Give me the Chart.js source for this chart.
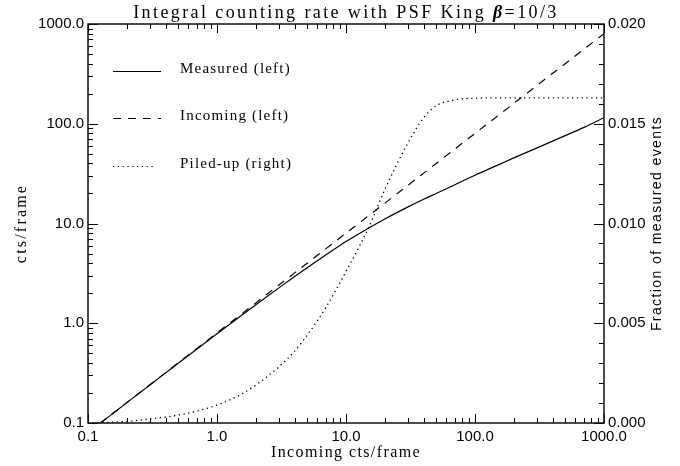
<!DOCTYPE html>
<html><head><meta charset="utf-8">
<script src="https://cdn.jsdelivr.net/npm/chart.js@4.4.1/dist/chart.umd.min.js"></script>
<style>html,body{margin:0;padding:0;background:#fff}</style>
</head><body>
<div style="width:680px;height:466px"><canvas id="c" width="680" height="466"></canvas></div>
<script>
// Incoming counts per frame (x)
const xValues   = [0.1,0.12,0.15,0.2,0.3,0.4,0.5,0.7,1,1.5,2,3,4,5,7,10,15,20,30,40,50,70,100,150,200,300,500,700,1000];
// Incoming (left axis, dashed)
const incoming  = [0.08,0.096,0.12,0.16,0.24,0.32,0.4,0.56,0.8,1.2,1.6,2.4,3.2,4,5.6,8,12,16,24,32,40,56,80,120,160,240,400,560,800];
// Measured (left axis, solid)
const measured  = [0.08,0.096,0.12,0.16,0.239,0.318,0.397,0.553,0.785,1.16,1.53,2.25,2.94,3.6,4.85,6.6,9.0,11.1,14.6,17.5,20.0,24.5,30.5,38.5,45.5,57,76,92,115];
// Piled-up fraction (right axis, dotted)
const piledUp   = [0,0.00002,0.00004,0.00008,0.0002,0.0003,0.0004,0.0006,0.0009,0.0014,0.0019,0.0028,0.0036,0.0044,0.0058,0.0076,0.0098,0.0117,0.0140,0.0153,0.0159,0.0162,0.01628,0.0163,0.0163,0.0163,0.0163,0.0163,0.0163];

const xTickLabels     = ['0.1','1.0','10.0','100.0','1000.0'];
const yTickLabels     = ['0.1','1.0','10.0','100.0','1000.0'];
const rightTickLabels = ['0.000','0.005','0.010','0.015','0.020'];

const seriesNames = ['Measured (left)','Incoming (left)','Piled-up (right)'];
const titleParts  = ['Integral counting rate with PSF King ','β','=10/3'];
const xTitle = 'Incoming cts/frame';
const yTitle = 'cts/frame';
const y2Title = 'Fraction of measured events';

const SERIF = '"Liberation Serif", "Times New Roman", serif';
const SANS  = '"Liberation Sans", Arial, sans-serif';
const DASH = [8,7];
const DOT  = [1.3,3.5];

function pts(ys){ return xValues.map((x,i)=>({x:x, y:ys[i]})); }

const framePlugin = {
  id:'frame',
  afterDraw(chart){
    const {ctx, chartArea:a, scales} = chart;
    const x = scales.x, y = scales.y, y2 = scales.y2;
    ctx.save();
    ctx.strokeStyle = '#000';
    ctx.lineWidth = 1;
    ctx.beginPath();
    for (let d=-1; d<=3; d++){
      for (let m=1; m<=9; m++){
        if (d===3 && m>1) break;
        const v = m*Math.pow(10,d);
        const major = m===1;
        const px = Math.round(x.getPixelForValue(v))+0.5;
        const lx = major?9:5;
        ctx.moveTo(px, a.bottom); ctx.lineTo(px, a.bottom-lx);
        ctx.moveTo(px, a.top); ctx.lineTo(px, a.top+lx);
        const py = Math.round(y.getPixelForValue(v))+0.5;
        const ly = major?10:5;
        ctx.moveTo(a.left, py); ctx.lineTo(a.left+ly, py);
      }
    }
    for (let k=0;k<=20;k++){
      const v = k*0.001;
      const py = Math.round(y2.getPixelForValue(v))+0.5;
      const l = (k%5===0)?10:5;
      ctx.moveTo(a.right, py); ctx.lineTo(a.right-l, py);
    }
    ctx.stroke();
    ctx.lineWidth = 1.5;
    ctx.strokeStyle = '#111';
    ctx.strokeRect(a.left, a.top, a.right-a.left, a.bottom-a.top);

    const legY = [71,118,166];
    const dashes = [[],DASH,DOT];
    ctx.lineWidth = 1.2;
    ctx.strokeStyle = '#000';
    for (let i=0;i<3;i++){
      ctx.setLineDash(dashes[i]);
      ctx.beginPath();
      ctx.moveTo(113, legY[i]+0.5); ctx.lineTo(i===2?156:161, legY[i]+0.5);
      ctx.stroke();
    }
    ctx.setLineDash([]);
    ctx.fillStyle = '#000';
    ctx.textBaseline = 'alphabetic';
    ctx.textAlign = 'left';
    ctx.font = '15px '+SERIF;
    ctx.letterSpacing = '1.2px';
    for (let i=0;i<3;i++) ctx.fillText(seriesNames[i], 180, legY[i]+1.5);

    ctx.letterSpacing = '2.4px';
    const fonts = ['18px '+SERIF, 'italic bold 18px '+SERIF, '18px '+SERIF];
    let widths = titleParts.map((t,i)=>{ctx.font=fonts[i]; return ctx.measureText(t).width;});
    let total = widths.reduce((s,w)=>s+w,0);
    let tx = (a.left+a.right)/2 - total/2;
    ctx.textBaseline = 'middle';
    titleParts.forEach((t,i)=>{ ctx.font=fonts[i]; ctx.fillText(t, tx, 13); tx += widths[i]; });

    ctx.font = '16px '+SERIF;
    ctx.letterSpacing = '1.4px';
    ctx.textAlign = 'center';
    ctx.fillText(xTitle, (a.left+a.right)/2, 453);

    ctx.save();
    ctx.translate(22, (a.top+a.bottom)/2);
    ctx.rotate(-Math.PI/2);
    ctx.font = '16px '+SERIF;
    ctx.letterSpacing = '2.2px';
    ctx.fillText(yTitle, 0, 0);
    ctx.restore();

    ctx.save();
    ctx.translate(657, (a.top+a.bottom)/2);
    ctx.rotate(-Math.PI/2);
    ctx.font = '14px '+SANS;
    ctx.letterSpacing = '1.4px';
    ctx.fillText(y2Title, 0, 0);
    ctx.restore();

    ctx.letterSpacing = '0px';
    ctx.restore();
  }
};

const tickFont = {family: SANS, size: 15};

new Chart(document.getElementById('c').getContext('2d'), {
  type: 'line',
  data: {
    datasets: [
      {label: seriesNames[0], data: pts(measured), yAxisID:'y', borderColor:'#000', borderWidth:1.2, pointRadius:0, cubicInterpolationMode:'monotone', fill:false},
      {label: seriesNames[1], data: pts(incoming), yAxisID:'y', borderColor:'#000', borderWidth:1.2, borderDash:DASH, pointRadius:0, fill:false},
      {label: seriesNames[2], data: pts(piledUp), yAxisID:'y2', borderColor:'#000', borderWidth:1.3, borderDash:DOT, pointRadius:0, cubicInterpolationMode:'monotone', fill:false}
    ]
  },
  options: {
    responsive:false, animation:false, devicePixelRatio:1,
    layout:{padding:{top:24,left:0,right:0,bottom:0}},
    plugins:{legend:{display:false}, title:{display:false}, tooltip:{enabled:false}},
    scales:{
      x:{type:'logarithmic', min:0.1, max:1000,
        afterBuildTicks:s=>{ s.ticks = xTickLabels.map(l=>({value:parseFloat(l)})); },
        afterFit:s=>{ s.height = 43; },
        grid:{display:false, drawTicks:false}, border:{display:false},
        ticks:{callback:(v,i)=>xTickLabels[i], font:tickFont, color:'#000', padding:5, maxRotation:0, autoSkip:false}},
      y:{type:'logarithmic', position:'left', min:0.1, max:1000,
        afterBuildTicks:s=>{ s.ticks = yTickLabels.map(l=>({value:parseFloat(l)})); },
        afterFit:s=>{ s.width = 88; },
        grid:{display:false, drawTicks:false}, border:{display:false},
        ticks:{callback:(v,i)=>yTickLabels[i], font:tickFont, color:'#000', padding:4, autoSkip:false}},
      y2:{type:'linear', position:'right', min:0, max:0.02,
        afterBuildTicks:s=>{ s.ticks = rightTickLabels.map(l=>({value:parseFloat(l)})); },
        afterFit:s=>{ s.width = 76; },
        grid:{display:false, drawTicks:false}, border:{display:false},
        ticks:{callback:(v,i)=>rightTickLabels[i], font:tickFont, color:'#000', padding:4, autoSkip:false}}
    }
  },
  plugins:[framePlugin]
});
</script>
</body></html>
